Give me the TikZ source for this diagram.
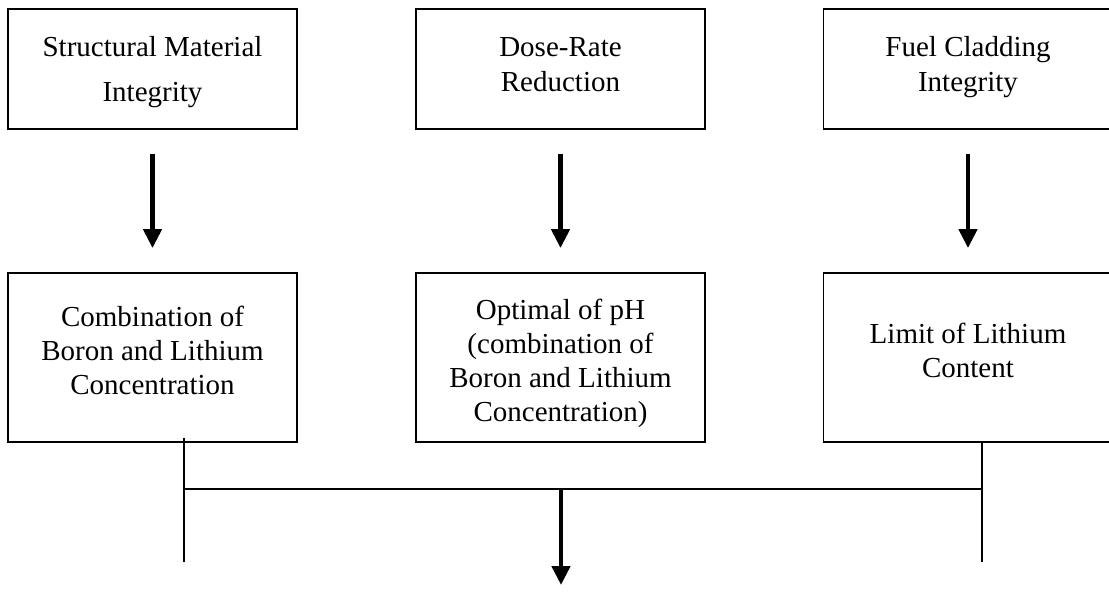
\documentclass[tikz,border=0pt]{standalone}
\usepackage{fontspec}
\setmainfont{Liberation Serif}
\usetikzlibrary{arrows.meta,calc}
\begin{document}
\begin{tikzpicture}[x=1pt,y=-1pt,
  topbox/.style={draw,line width=1.8pt,minimum width=289pt,minimum height=120pt,inner sep=0pt,align=center,
    font=\fontsize{29}{35}\selectfont},
  lowbox/.style={draw,line width=1.8pt,minimum width=289pt,minimum height=169pt,inner sep=0pt,align=center,
    font=\fontsize{29}{34}\selectfont},
  bigarrow/.style={line width=4.5pt,-{Triangle[width=18pt,length=19pt]}},
  thinline/.style={line width=1.6pt}]
\clip (0,0) rectangle (1109,593);
\fill[white] (0,0) rectangle (1109,593);

\node[topbox,text height=72pt,text depth=6pt] (t1) at (152.5,69) {Structural Material\\[10pt]Integrity};
\node[topbox,text height=46pt,text depth=0pt] (t2) at (560.5,69) {Dose-Rate\\Reduction};
\node[topbox,text height=52pt,text depth=6pt] (t3) at (968,69) {Fuel Cladding\\Integrity};

\node[lowbox,text height=75pt,text depth=0pt] (b1) at (152.5,357.5) {Combination of\\Boron and Lithium\\Concentration};
\node[lowbox,text height=135pt,text depth=6pt] (b2) at (560.5,357.5) {Optimal of pH\\(combination of\\Boron and Lithium\\Concentration)};
\node[lowbox,text height=41pt,text depth=0pt] (b3) at (968,357.5) {Limit of Lithium\\Content};

\draw[bigarrow,shorten <=24pt,shorten >=24pt] (t1.south) -- (b1.north);
\draw[bigarrow,shorten <=24pt,shorten >=24pt] (t2.south) -- (b2.north);
\draw[bigarrow,shorten <=24pt,shorten >=24pt] (t3.south) -- (b3.north);

\coordinate (ltop) at (184,438);
\coordinate (lend) at (184,562);
\coordinate (rtop) at (982,442);
\coordinate (rend) at (982,562);
\coordinate (jl) at (184,489);
\coordinate (jr) at (982,489);
\coordinate (jm) at (561,489);
\coordinate (out) at (561,585);

\draw[thinline] (ltop) -- (lend);
\draw[thinline] (rtop) -- (rend);
\draw[thinline] (jl) -- (jr);
\draw[bigarrow] (jm) -- (out);
\end{tikzpicture}
\end{document}
